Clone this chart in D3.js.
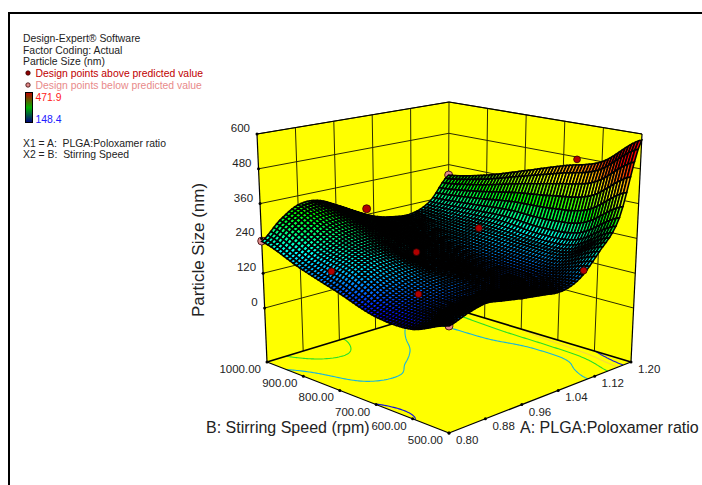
<!DOCTYPE html>
<html>
<head>
<meta charset="utf-8">
<script src="https://cdn.jsdelivr.net/npm/d3@7"></script>
<style>
  html, body { margin: 0; padding: 0; background: #fff; }
  svg { display: block; }
  text { font-family: "Liberation Sans", Arial, sans-serif; fill: #222; }
</style>
</head>
<body>
<div id="myChart"></div>
<script>
var ratioTicks = [0.80, 0.88, 0.96, 1.04, 1.12, 1.20];
var speedTicks = [1000, 900, 800, 700, 600, 500];
var sizeTicks = [0, 120, 240, 360, 480, 600];

// surface heights
var gridRatio = [0.80, 0.84, 0.88, 0.92, 0.96, 1.00, 1.04, 1.08, 1.12, 1.16, 1.20];
var gridSpeed = [1000, 900, 800, 700, 600, 500];
var sizeB1000 = [230, 288, 328, 330, 300, 262, 228, 210, 205, 235, 320];
var sizeB900 = [180, 225, 262, 272, 255, 225, 200, 190, 200, 240, 350];
var sizeB800 = [140, 190, 215, 215, 195, 180, 170, 170, 195, 245, 395];
var sizeB700 = [101, 130, 150, 165, 165, 155, 145, 150, 180, 235, 440];
var sizeB600 = [100, 122, 135, 140, 140, 135, 135, 145, 180, 250, 480];
var sizeB500 = [149, 170, 183, 172, 160, 150, 142, 165, 235, 330, 579];
var sizeRows = [sizeB1000, sizeB900, sizeB800, sizeB700, sizeB600, sizeB500];

// design points: ratio, speed, size
var pointsHidden = [[0.80, 1000, 231], [1.20, 1000, 320], [0.80, 500, 149], [1.025, 1000, 261], [0.96, 505, 168]];
var pointsHiddenBelow = [true, true, true, false, false];
var pointsShown = [[1.20, 665, 471.9], [1.12, 820, 214], [0.98, 812, 193], [0.88, 682, 144], [0.84, 865, 166], [1.096, 510, 180]];

var contourLevels = [102, 205, 292, 395, 482];
var contourColors = ["#1010e0", "#18b4dc", "#28e028", "#f4d840", "#1818d8"];

var legendLines = ["Design-Expert\u00ae Software", "Factor Coding: Actual", "Particle Size (nm)"];

var meshCells = 60;

var svg = d3.select("#myChart").append("svg").attr("width", 702).attr("height", 485);

// data -> unit cube
var ax = d3.scaleLinear().domain([0.8, 1.2]).range([0, 1]);
var bx = d3.scaleLinear().domain([500, 1000]).range([0, 1]);
var zx = d3.scaleLinear().domain([-186, 600]).range([0, 1]);

// the box corners on screen, key is a b z
var box = {
  "000": [449, 433], "100": [631, 362], "010": [267, 362], "110": [448, 307],
  "001": [449, 182], "101": [642, 134], "011": [257, 134], "111": [449, 102]
};

function project(a, b, z) {
  var out = [0, 0];
  for (var i = 0; i < 2; i++) {
    var low = (1 - b) * ((1 - a) * box["000"][i] + a * box["100"][i]) + b * ((1 - a) * box["010"][i] + a * box["110"][i]);
    var high = (1 - b) * ((1 - a) * box["001"][i] + a * box["101"][i]) + b * ((1 - a) * box["011"][i] + a * box["111"][i]);
    out[i] = (1 - z) * low + z * high;
  }
  return out;
}
function toScreen(ratio, speed, size) { return project(ax(ratio), bx(speed), zx(size)); }
function poly(pts) { return "M" + pts.map(function(p) { return p[0].toFixed(2) + "," + p[1].toFixed(2); }).join("L") + "Z"; }

// catmull-rom through the table, only to draw a smooth mesh
function cr(p0, p1, p2, p3, t) {
  return 0.5 * (2 * p1 + (p2 - p0) * t + (2 * p0 - 5 * p1 + 4 * p2 - p3) * t * t + (3 * p1 - p0 - 3 * p2 + p3) * t * t * t);
}
function spline(arr, pos) {
  var n = arr.length - 1;
  var i = Math.min(Math.floor(pos), n - 1);
  return cr(arr[Math.max(i - 1, 0)], arr[i], arr[i + 1], arr[Math.min(i + 2, n)], pos - i);
}
function surfaceAt(a, b) {
  var col = a * (gridRatio.length - 1);
  var row = (1 - b) * (gridSpeed.length - 1);
  return spline(sizeRows.map(function(r) { return spline(r, col); }), row);
}

var color = d3.scaleLinear().domain([100, 210, 310, 400, 500])
  .range(["#0000ff", "#00ffff", "#00ff00", "#ffff00", "#ff0000"]).clamp(true);

// walls and floor
var yellow = "#ffff00";
svg.append("path").attr("d", poly([box["010"], box["110"], box["111"], box["011"]])).attr("fill", yellow);
svg.append("path").attr("d", poly([box["110"], box["100"], box["101"], box["111"]])).attr("fill", yellow);
svg.append("path").attr("d", poly([box["000"], box["100"], box["110"], box["010"]])).attr("fill", yellow);

var grid = svg.append("g").attr("fill", "none").attr("stroke", "#2b2b00").attr("stroke-width", 1);
function seg(g, p, q, w, c) {
  g.append("line").attr("x1", p[0]).attr("y1", p[1]).attr("x2", q[0]).attr("y2", q[1])
    .attr("stroke-width", w).attr("stroke", c || "#2b2b00");
}
var zFloor = zx.domain()[0], zTop = zx.domain()[1];
ratioTicks.slice(1, 5).forEach(function(r) {
  seg(grid, toScreen(r, 1000, zFloor), toScreen(r, 1000, zTop), 1);
});
speedTicks.slice(1, 5).forEach(function(s) {
  seg(grid, toScreen(1.2, s, zFloor), toScreen(1.2, s, zTop), 1);
});
sizeTicks.forEach(function(z) {
  seg(grid, toScreen(0.8, 1000, z), toScreen(1.2, 1000, z), 1);
  seg(grid, toScreen(1.2, 1000, z), toScreen(1.2, 500, z), 1);
});
seg(grid, box["110"], box["111"], 1);

// floor contours
var dense = 121, values = [];
for (var j = 0; j < dense; j++) {
  for (var i = 0; i < dense; i++) {
    values.push(surfaceAt(i / (dense - 1), j / (dense - 1)));
  }
}
var contours = d3.contours().size([dense, dense]).thresholds(contourLevels)(values);
var contourLine = d3.line()
  .defined(function(p) { return p[0] > 0 && p[0] < dense && p[1] > 0 && p[1] < dense; })
  .x(function(p) { return p[2][0]; })
  .y(function(p) { return p[2][1]; })
  .curve(d3.curveLinear);
var contourG = svg.append("g").attr("fill", "none").attr("stroke-width", 1.1);
contours.forEach(function(c, k) {
  c.coordinates.forEach(function(polygon) {
    polygon.forEach(function(ring) {
      var pts = ring.map(function(p) {
        var a = Math.min(Math.max((p[0] - 0.5) / (dense - 1), 0), 1);
        var b = Math.min(Math.max((p[1] - 0.5) / (dense - 1), 0), 1);
        return [p[0], p[1], project(a, b, 0)];
      });
      contourG.append("path").attr("d", contourLine(pts)).attr("stroke", contourColors[k]);
    });
  });
});

// box edges
var edges = svg.append("g");
seg(edges, box["010"], box["110"], 1.7, "#000");
seg(edges, box["110"], box["100"], 1.7, "#000");
seg(edges, box["000"], box["100"], 1.2, "#000");
seg(edges, box["000"], box["010"], 1.2, "#000");
seg(edges, box["010"], box["011"], 1.2, "#000");
seg(edges, box["100"], box["101"], 1.2, "#000");
seg(edges, box["011"], box["111"], 1.2, "#000");
seg(edges, box["111"], box["101"], 1.2, "#000");

// design points behind the surface
function dot(g, p, fill, r) {
  g.append("circle").attr("cx", p[0]).attr("cy", p[1]).attr("r", r)
    .attr("fill", fill).attr("stroke", "#300").attr("stroke-width", 0.8);
}
var back = svg.append("g");
pointsHidden.forEach(function(d, k) {
  dot(back, toScreen(d[0], d[1], d[2]), pointsHiddenBelow[k] ? "#e08a8a" : "#b00000", 4);
});

// surface, far corner first
var mesh = svg.append("g").attr("stroke", "#000").attr("stroke-width", 1.6);
for (var ia = meshCells - 1; ia >= 0; ia--) {
  for (var ib = meshCells - 1; ib >= 0; ib--) {
    var a0 = ia / meshCells, a1 = (ia + 1) / meshCells;
    var b0 = ib / meshCells, b1 = (ib + 1) / meshCells;
    var z00 = zx(surfaceAt(a0, b0)), z10 = zx(surfaceAt(a1, b0));
    var z01 = zx(surfaceAt(a0, b1)), z11 = zx(surfaceAt(a1, b1));
    var mid = zx.invert((z00 + z10 + z01 + z11) / 4);
    mesh.append("path")
      .attr("d", poly([project(a0, b0, z00), project(a1, b0, z10), project(a1, b1, z11), project(a0, b1, z01)]))
      .attr("fill", color(mid));
  }
}

// design points on top
var front = svg.append("g");
pointsShown.forEach(function(d) { dot(front, toScreen(d[0], d[1], d[2]), "#b00000", 3.4); });

// ticks and labels
var labels = svg.append("g").attr("font-size", "11.5px");
function tickDot(p) { svg.append("circle").attr("cx", p[0]).attr("cy", p[1]).attr("r", 1.5).attr("fill", "#000"); }
sizeTicks.forEach(function(z) {
  var p = toScreen(0.8, 1000, z);
  tickDot(p);
  labels.append("text").attr("x", p[0] - 7).attr("y", p[1] - 2).attr("text-anchor", "end").text(z);
});
speedTicks.forEach(function(s) {
  var p = toScreen(0.8, s, zFloor);
  tickDot(p);
  labels.append("text").attr("x", p[0] - 6).attr("y", p[1] + 11).attr("text-anchor", "end").text(s.toFixed(2));
});
ratioTicks.forEach(function(r) {
  var p = toScreen(r, 500, zFloor);
  tickDot(p);
  labels.append("text").attr("x", p[0] + 7).attr("y", p[1] + 11).text(r.toFixed(2));
});

var title = svg.append("g").attr("font-size", "16px");
title.append("text").attr("x", 206).attr("y", 433).text("B: Stirring Speed (rpm)");
title.append("text").attr("x", 520).attr("y", 433).text("A: PLGA:Poloxamer ratio");
title.append("text").attr("transform", "translate(204,250) rotate(-90)").attr("text-anchor", "middle").style("font-size", "17px").text("Particle Size (nm)");

// legend
var legend = svg.append("g").attr("font-size", "10.4px");
legendLines.forEach(function(t, k) {
  legend.append("text").attr("x", 23).attr("y", 42 + k * 11.7).text(t);
});
legend.append("text").attr("x", 35.5).attr("y", 77).style("fill", "#c00000").text("Design points above predicted value");
legend.append("text").attr("x", 35.5).attr("y", 89).style("fill", "#e88a8a").text("Design points below predicted value");
dot(legend, [28, 73], "#900000", 2.2);
dot(legend, [28, 85], "#e08a8a", 2.2);

var defs = svg.append("defs").append("linearGradient").attr("id", "bar").attr("x1", 0).attr("x2", 0).attr("y1", 0).attr("y2", 1);
["#c00000", "#00b000", "#000080"].forEach(function(c, k) {
  defs.append("stop").attr("offset", k / 2).attr("stop-color", c);
});
legend.append("rect").attr("x", 25.5).attr("y", 92.5).attr("width", 7).attr("height", 30)
  .attr("fill", "url(#bar)").attr("stroke", "#000").attr("stroke-width", 1);
legend.append("text").attr("x", 35.5).attr("y", 101).style("fill", "#ff2020").text("471.9");
legend.append("text").attr("x", 35.5).attr("y", 123).style("fill", "#2020ff").text("148.4");
legend.append("text").attr("x", 23).attr("y", 147).text("X1 = A:\u00a0 PLGA:Poloxamer ratio");
legend.append("text").attr("x", 23).attr("y", 158).text("X2 = B:\u00a0 Stirring Speed");

// frame
svg.append("path").attr("d", "M9,485V13H702").attr("fill", "none").attr("stroke", "#000").attr("stroke-width", 2);
</script>
</body>
</html>
